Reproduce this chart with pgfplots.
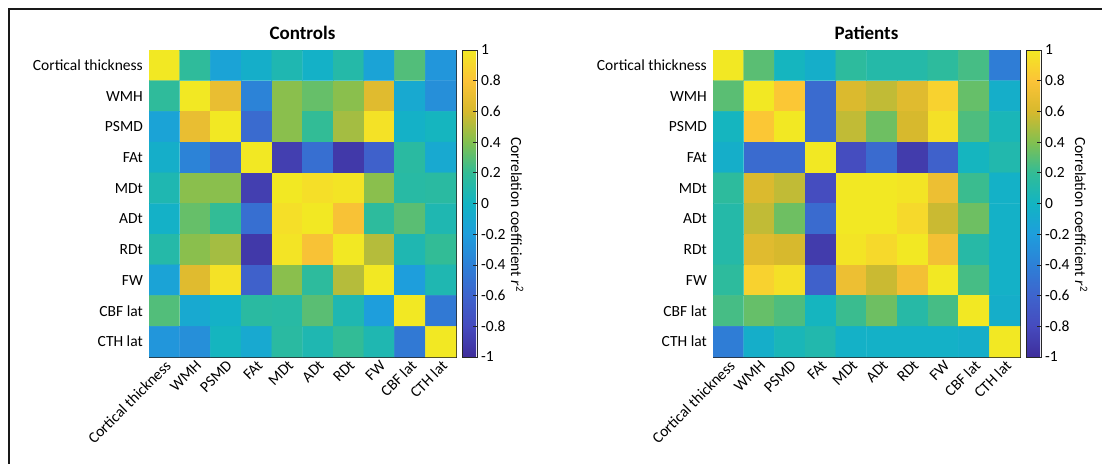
\documentclass[border=0pt]{standalone}
\usepackage{pgfplots}
\usepackage{pgfplotstable}
\usepackage{fontspec}
\pgfplotsset{compat=1.18}
\setmainfont{Carlito}
\newcommand\lbl{\fontsize{15.5bp}{18bp}\selectfont}
\newcommand\ttl{\fontsize{19bp}{22bp}\selectfont\bfseries}
\definecolor{axgray}{rgb}{0.15,0.15,0.15}
\pgfplotsset{colormap={parula}{
rgb255=(62,45,155)
rgb255=(70,75,190)
rgb255=(62,100,205)
rgb255=(45,128,215)
rgb255=(30,158,220)
rgb255=(18,180,195)
rgb255=(50,188,150)
rgb255=(130,192,80)
rgb255=(215,185,45)
rgb255=(252,195,55)
rgb255=(242,232,35)}}

\pgfplotstableread[row sep=\\]{
x y c\\
0 0 1\\ 1 0 0.18\\ 2 0 -0.15\\ 3 0 -0.05\\ 4 0 0.08\\ 5 0 -0.03\\ 6 0 0.12\\ 7 0 -0.15\\ 8 0 0.28\\ 9 0 -0.25\\
0 1 0.18\\ 1 1 1\\ 2 1 0.7\\ 3 1 -0.38\\ 4 1 0.42\\ 5 1 0.33\\ 6 1 0.42\\ 7 1 0.65\\ 8 1 -0.1\\ 9 1 -0.3\\
0 2 -0.15\\ 1 2 0.7\\ 2 2 1\\ 3 2 -0.55\\ 4 2 0.42\\ 5 2 0.2\\ 6 2 0.48\\ 7 2 0.97\\ 8 2 -0.03\\ 9 2 0.02\\
0 3 -0.05\\ 1 3 -0.38\\ 2 3 -0.55\\ 3 3 1\\ 4 3 -0.88\\ 5 3 -0.52\\ 6 3 -0.92\\ 7 3 -0.62\\ 8 3 0.15\\ 9 3 -0.1\\
0 4 0.08\\ 1 4 0.42\\ 2 4 0.42\\ 3 4 -0.88\\ 4 4 1\\ 5 4 0.95\\ 6 4 0.98\\ 7 4 0.42\\ 8 4 0.14\\ 9 4 0.15\\
0 5 -0.03\\ 1 5 0.33\\ 2 5 0.2\\ 3 5 -0.52\\ 4 5 0.95\\ 5 5 1\\ 6 5 0.78\\ 7 5 0.17\\ 8 5 0.3\\ 9 5 0.08\\
0 6 0.12\\ 1 6 0.42\\ 2 6 0.48\\ 3 6 -0.92\\ 4 6 0.98\\ 5 6 0.78\\ 6 6 1\\ 7 6 0.52\\ 8 6 0.08\\ 9 6 0.2\\
0 7 -0.15\\ 1 7 0.65\\ 2 7 0.97\\ 3 7 -0.62\\ 4 7 0.42\\ 5 7 0.17\\ 6 7 0.52\\ 7 7 1\\ 8 7 -0.2\\ 9 7 0.08\\
0 8 0.28\\ 1 8 -0.1\\ 2 8 -0.03\\ 3 8 0.15\\ 4 8 0.14\\ 5 8 0.3\\ 6 8 0.08\\ 7 8 -0.2\\ 8 8 1\\ 9 8 -0.45\\
0 9 -0.25\\ 1 9 -0.3\\ 2 9 0.02\\ 3 9 -0.1\\ 4 9 0.15\\ 5 9 0.08\\ 6 9 0.2\\ 7 9 0.08\\ 8 9 -0.45\\ 9 9 1\\
}\controls

\pgfplotstableread[row sep=\\]{
x y c\\
0 0 1\\ 1 0 0.3\\ 2 0 0.02\\ 3 0 -0.05\\ 4 0 0.17\\ 5 0 0.12\\ 6 0 0.12\\ 7 0 0.17\\ 8 0 0.25\\ 9 0 -0.42\\
0 1 0.3\\ 1 1 1\\ 2 1 0.82\\ 3 1 -0.55\\ 4 1 0.62\\ 5 1 0.55\\ 6 1 0.65\\ 7 1 0.88\\ 8 1 0.33\\ 9 1 -0.05\\
0 2 0.02\\ 1 2 0.82\\ 2 2 1\\ 3 2 -0.55\\ 4 2 0.55\\ 5 2 0.35\\ 6 2 0.6\\ 7 2 0.96\\ 8 2 0.27\\ 9 2 0.05\\
0 3 -0.05\\ 1 3 -0.55\\ 2 3 -0.55\\ 3 3 1\\ 4 3 -0.78\\ 5 3 -0.55\\ 6 3 -0.9\\ 7 3 -0.62\\ 8 3 0.02\\ 9 3 0.1\\
0 4 0.17\\ 1 4 0.62\\ 2 4 0.55\\ 3 4 -0.78\\ 4 4 1\\ 5 4 1\\ 6 4 0.98\\ 7 4 0.72\\ 8 4 0.22\\ 9 4 -0.03\\
0 5 0.12\\ 1 5 0.55\\ 2 5 0.35\\ 3 5 -0.55\\ 4 5 1\\ 5 5 1\\ 6 5 0.92\\ 7 5 0.57\\ 8 5 0.35\\ 9 5 -0.03\\
0 6 0.12\\ 1 6 0.65\\ 2 6 0.6\\ 3 6 -0.9\\ 4 6 0.98\\ 5 6 0.92\\ 6 6 1\\ 7 6 0.75\\ 8 6 0.13\\ 9 6 -0.03\\
0 7 0.17\\ 1 7 0.88\\ 2 7 0.96\\ 3 7 -0.62\\ 4 7 0.72\\ 5 7 0.57\\ 6 7 0.75\\ 7 7 1\\ 8 7 0.25\\ 9 7 -0.03\\
0 8 0.25\\ 1 8 0.33\\ 2 8 0.27\\ 3 8 0.02\\ 4 8 0.22\\ 5 8 0.35\\ 6 8 0.13\\ 7 8 0.25\\ 8 8 1\\ 9 8 -0.05\\
0 9 -0.42\\ 1 9 -0.05\\ 2 9 0.05\\ 3 9 0.1\\ 4 9 -0.03\\ 5 9 -0.03\\ 6 9 -0.03\\ 7 9 -0.03\\ 8 9 -0.05\\ 9 9 1\\
}\patients

\pgfplotsset{
  corrmat/.style={
    scale only axis, width=307bp, height=307bp,
    anchor=south west,
    xmin=-0.5, xmax=9.5, ymin=-0.5, ymax=9.5, y dir=reverse,
    xtick={0,...,9}, ytick={0,...,9},
    xticklabels={Cortical thickness,WMH,PSMD,FAt,MDt,ADt,RDt,FW,CBF lat,CTH lat},
    yticklabels={Cortical thickness,WMH,PSMD,FAt,MDt,ADt,RDt,FW,CBF lat,CTH lat},
    xtick pos=both, ytick pos=both,
    xticklabel pos=lower, yticklabel pos=left,
    tick align=inside, major tick length=5bp,
    tick style={axgray, line width=0.6pt},
    axis line style={axgray, line width=0.8pt},
    xticklabel style={rotate=45, anchor=north east, font=\lbl, inner sep=1.5bp},
    yticklabel style={font=\lbl, inner sep=2bp, xshift=-4bp},
    title style={font=\ttl, at={(0.5,1)}, anchor=base, yshift=5bp},
    colormap name=parula, point meta min=-1, point meta max=1,
    colorbar,
    colorbar shift/.style={xshift=6bp},
    colorbar style={
      at={(parent axis.north east)}, anchor=north west,
      scale only axis, width=15bp, height=307bp,
      ytick={-1,-0.8,-0.6,-0.4,-0.2,0,0.2,0.4,0.6,0.8,1},
      yticklabels={-1,-0.8,-0.6,-0.4,-0.2,0,0.2,0.4,0.6,0.8,1},
      ytick pos=right, yticklabel pos=right,
      tick align=inside, major tick length=4bp,
      tick style={axgray, line width=0.6pt},
      axis line style={axgray, line width=0.8pt},
      yticklabel style={font=\lbl, inner sep=2bp, xshift=2bp},
      ylabel={Correlation coefficient \textit{r}\textsuperscript{2}},
      ylabel style={font=\lbl, rotate=180, at={(ticklabel cs:0.47)}, xshift=2bp},
    },
  }
}

\begin{document}
\begin{tikzpicture}
\useasboundingbox (0,0) rectangle (1102bp,464bp);
\draw[line width=2bp, black!90] (9bp,0) -- (9bp,455bp) -- (1102bp,455bp);
\begin{axis}[corrmat, at={(149bp,107bp)}, title={Controls}]
\addplot[matrix plot*, mesh/cols=10, point meta=explicit] table[x=x, y=y, meta=c] {\controls};
\end{axis}
\begin{axis}[corrmat, at={(713bp,107bp)}, title={Patients}]
\addplot[matrix plot*, mesh/cols=10, point meta=explicit] table[x=x, y=y, meta=c] {\patients};
\end{axis}
\end{tikzpicture}
\end{document}
